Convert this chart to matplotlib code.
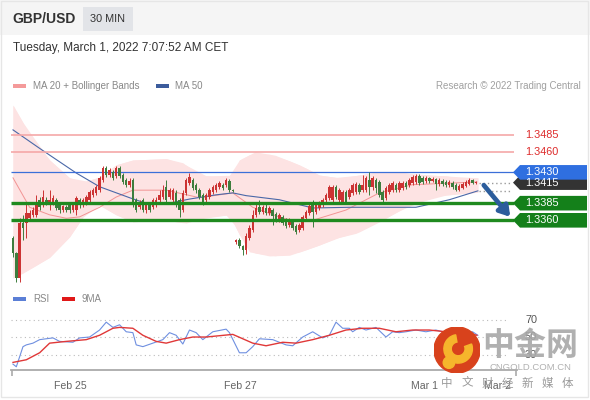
import matplotlib
matplotlib.use("Agg")
import matplotlib.pyplot as plt
import matplotlib.patches as mpatches
import matplotlib.transforms as mtrans
import numpy as np

plt.rcParams['font.family'] = ['Liberation Sans', 'Noto Sans CJK SC', 'DejaVu Sans']

# ---- candles (30 min), index based ----
opens = [1.3334, 1.3312, 1.3276, 1.3356, 1.3356, 1.3363, 1.3368, 1.3368, 1.3390, 1.3382,
         1.3390, 1.3382, 1.3385, 1.3390, 1.3382, 1.3375, 1.3379, 1.3382, 1.3375, 1.3375,
         1.3390, 1.3382, 1.3385, 1.3390, 1.3397, 1.3400, 1.3404, 1.3419, 1.3436, 1.3426,
         1.3431, 1.3425, 1.3436, 1.3426, 1.3419, 1.3412, 1.3419, 1.3390, 1.3379, 1.3390,
         1.3375, 1.3384, 1.3379, 1.3382, 1.3390, 1.3394, 1.3409, 1.3394, 1.3390, 1.3400,
         1.3390, 1.3375, 1.3400, 1.3414, 1.3419, 1.3412, 1.3404, 1.3397, 1.3390, 1.3394,
         1.3401, 1.3404, 1.3409, 1.3412, 1.3412, 1.3417, 1.3404, 1.3328, 1.3331, 1.3322,
         1.3317, 1.3334, 1.3346, 1.3368, 1.3379, 1.3372, 1.3378, 1.3371, 1.3375, 1.3369,
         1.3360, 1.3365, 1.3360, 1.3353, 1.3358, 1.3352, 1.3346, 1.3349, 1.3363, 1.3371,
         1.3382, 1.3372, 1.3378, 1.3382, 1.3390, 1.3393, 1.3390, 1.3409, 1.3390, 1.3387,
         1.3401, 1.3394, 1.3400, 1.3401, 1.3412, 1.3404, 1.3404, 1.3419, 1.3409, 1.3419,
         1.3416, 1.3401, 1.3393, 1.3401, 1.3404, 1.3412, 1.3404, 1.3407, 1.3414, 1.3412,
         1.3414, 1.3416, 1.3425, 1.3422, 1.3418, 1.3422, 1.3418, 1.3420, 1.3413, 1.3418,
         1.3416, 1.3412, 1.3414, 1.3412, 1.3404, 1.3407, 1.3410, 1.3413, 1.3419, 1.3414]
highs = [1.3337, 1.3314, 1.3363, 1.3368, 1.3385, 1.3375, 1.3379, 1.3397, 1.3394, 1.3404,
         1.3394, 1.3404, 1.3397, 1.3393, 1.3385, 1.3382, 1.3382, 1.3385, 1.3387, 1.3396,
         1.3393, 1.3393, 1.3397, 1.3404, 1.3407, 1.3412, 1.3425, 1.3439, 1.3439, 1.3436,
         1.3433, 1.3439, 1.3439, 1.3429, 1.3422, 1.3422, 1.3422, 1.3393, 1.3390, 1.3393,
         1.3385, 1.3387, 1.3393, 1.3394, 1.3404, 1.3412, 1.3419, 1.3407, 1.3407, 1.3404,
         1.3393, 1.3404, 1.3422, 1.3429, 1.3422, 1.3414, 1.3407, 1.3400, 1.3400, 1.3407,
         1.3412, 1.3414, 1.3417, 1.3414, 1.3422, 1.3420, 1.3405, 1.3333, 1.3334, 1.3324,
         1.3341, 1.3353, 1.3375, 1.3385, 1.3390, 1.3382, 1.3385, 1.3381, 1.3378, 1.3372,
         1.3371, 1.3368, 1.3363, 1.3363, 1.3360, 1.3355, 1.3356, 1.3368, 1.3375, 1.3384,
         1.3390, 1.3385, 1.3388, 1.3393, 1.3400, 1.3412, 1.3412, 1.3412, 1.3407, 1.3404,
         1.3404, 1.3407, 1.3414, 1.3416, 1.3414, 1.3426, 1.3425, 1.3431, 1.3425, 1.3422,
         1.3419, 1.3404, 1.3410, 1.3414, 1.3417, 1.3414, 1.3417, 1.3417, 1.3417, 1.3422,
         1.3426, 1.3428, 1.3428, 1.3425, 1.3425, 1.3423, 1.3423, 1.3422, 1.3422, 1.3420,
         1.3419, 1.3419, 1.3417, 1.3414, 1.3413, 1.3416, 1.3419, 1.3422, 1.3420, 1.3417]
lows = [1.3306, 1.3270, 1.3270, 1.3331, 1.3334, 1.3360, 1.3365, 1.3365, 1.3375, 1.3379,
        1.3382, 1.3375, 1.3382, 1.3375, 1.3371, 1.3372, 1.3372, 1.3371, 1.3372, 1.3368,
        1.3378, 1.3379, 1.3382, 1.3387, 1.3394, 1.3397, 1.3401, 1.3416, 1.3423, 1.3423,
        1.3419, 1.3422, 1.3422, 1.3413, 1.3409, 1.3409, 1.3379, 1.3372, 1.3376, 1.3372,
        1.3371, 1.3372, 1.3376, 1.3379, 1.3387, 1.3391, 1.3387, 1.3391, 1.3387, 1.3379,
        1.3365, 1.3372, 1.3397, 1.3412, 1.3404, 1.3400, 1.3391, 1.3382, 1.3385, 1.3391,
        1.3398, 1.3401, 1.3406, 1.3404, 1.3409, 1.3401, 1.3402, 1.3326, 1.3319, 1.3309,
        1.3311, 1.3331, 1.3343, 1.3365, 1.3369, 1.3369, 1.3368, 1.3368, 1.3353, 1.3358,
        1.3358, 1.3353, 1.3349, 1.3350, 1.3346, 1.3340, 1.3343, 1.3346, 1.3360, 1.3368,
        1.3350, 1.3369, 1.3375, 1.3379, 1.3387, 1.3390, 1.3387, 1.3391, 1.3387, 1.3384,
        1.3384, 1.3391, 1.3397, 1.3398, 1.3398, 1.3401, 1.3401, 1.3397, 1.3404, 1.3400,
        1.3394, 1.3385, 1.3390, 1.3398, 1.3401, 1.3401, 1.3401, 1.3404, 1.3406, 1.3409,
        1.3412, 1.3413, 1.3412, 1.3413, 1.3414, 1.3414, 1.3416, 1.3404, 1.3410, 1.3410,
        1.3409, 1.3409, 1.3406, 1.3403, 1.3403, 1.3406, 1.3409, 1.3412, 1.3413, 1.3413]
closes = [1.3312, 1.3276, 1.3356, 1.3349, 1.3371, 1.3371, 1.3375, 1.3385, 1.3379, 1.3394,
          1.3385, 1.3390, 1.3393, 1.3378, 1.3375, 1.3381, 1.3375, 1.3375, 1.3384, 1.3393,
          1.3382, 1.3390, 1.3394, 1.3401, 1.3404, 1.3409, 1.3422, 1.3436, 1.3426, 1.3433,
          1.3422, 1.3436, 1.3425, 1.3416, 1.3412, 1.3418, 1.3382, 1.3375, 1.3385, 1.3375,
          1.3382, 1.3375, 1.3390, 1.3390, 1.3397, 1.3404, 1.3390, 1.3404, 1.3404, 1.3382,
          1.3375, 1.3400, 1.3419, 1.3423, 1.3407, 1.3404, 1.3394, 1.3385, 1.3397, 1.3404,
          1.3409, 1.3412, 1.3414, 1.3407, 1.3419, 1.3404, 1.3403, 1.3331, 1.3322, 1.3317,
          1.3337, 1.3349, 1.3368, 1.3378, 1.3372, 1.3379, 1.3371, 1.3378, 1.3366, 1.3360,
          1.3368, 1.3356, 1.3352, 1.3360, 1.3349, 1.3343, 1.3353, 1.3365, 1.3372, 1.3381,
          1.3372, 1.3382, 1.3385, 1.3390, 1.3397, 1.3409, 1.3409, 1.3394, 1.3404, 1.3401,
          1.3387, 1.3404, 1.3412, 1.3413, 1.3401, 1.3412, 1.3422, 1.3409, 1.3422, 1.3407,
          1.3397, 1.3390, 1.3407, 1.3412, 1.3414, 1.3404, 1.3414, 1.3414, 1.3409, 1.3419,
          1.3423, 1.3425, 1.3414, 1.3416, 1.3422, 1.3418, 1.3420, 1.3413, 1.3419, 1.3413,
          1.3412, 1.3416, 1.3409, 1.3404, 1.3410, 1.3413, 1.3416, 1.3419, 1.3414, 1.3416]

# ---- indicator lines, read at sample candle positions ----
bb_up_idx = [0, 6, 11, 17, 21, 26, 31, 36, 46, 51, 56, 64, 66.5, 68, 72.7, 78.7, 86, 92, 98, 104, 110, 116, 122, 130, 134, 139.6]
bb_up = [1.3528, 1.3477, 1.3448, 1.3422, 1.3416, 1.3423, 1.3441, 1.3448, 1.3450, 1.3444, 1.3426, 1.3422, 1.3431,
         1.3448, 1.3460, 1.3455, 1.3441, 1.3426, 1.3422, 1.3426, 1.3431, 1.3431, 1.3426, 1.3425, 1.3422, 1.3422]
bb_lo_idx = [0, 3, 11, 17, 22, 26, 31, 36, 46, 52, 58, 65, 68, 71, 77, 83, 88, 92, 97, 103, 110, 119, 128, 139.6]
bb_lo = [1.3276, 1.3283, 1.3306, 1.3336, 1.3372, 1.3382, 1.3368, 1.3358, 1.3360, 1.3356, 1.3365, 1.3368,
         1.3339, 1.3314, 1.3308, 1.3309, 1.3317, 1.3324, 1.3334, 1.3341, 1.3358, 1.3382, 1.3396, 1.3401]
ma20_idx = [0, 5, 11, 16, 20, 26, 31, 36, 46, 56, 66, 72, 81, 85, 90, 100, 110, 120, 130, 139.3]
ma20 = [1.3422, 1.3379, 1.3368, 1.3363, 1.3365, 1.3379, 1.3394, 1.3404, 1.3404, 1.3393,
        1.3400, 1.3379, 1.3363, 1.3359, 1.3360, 1.3375, 1.3400, 1.3412, 1.3414, 1.3416]
ma50_idx = [0, 8, 19, 26, 35, 40.5, 47, 53, 60.7, 66, 70, 80, 90, 101, 121, 131, 139.6]
ma50 = [1.3492, 1.3465, 1.3429, 1.3409, 1.3393, 1.3384, 1.3385, 1.3391, 1.3397, 1.3400,
        1.3396, 1.3390, 1.3378, 1.3379, 1.3379, 1.3390, 1.3403]

rsi_idx = [0, 1, 3, 4, 6, 8, 12, 14, 18, 20, 23, 26, 28, 30, 32, 34, 36, 37, 39, 42, 45, 47, 49, 51, 53, 55,
           57, 60, 64, 65, 68, 70, 72, 74, 78, 82, 84, 87, 90, 93, 95, 97, 99, 101, 102, 104, 106, 109,
           112, 114, 116, 118, 121, 124, 127, 130, 133, 136, 138, 139.6]
rsi = [19, 16, 39, 41, 43, 47, 49, 45, 44, 49, 50, 58, 67, 61, 64, 56, 55, 41, 39, 43, 47, 55, 52, 42, 58, 55,
       47, 56, 59, 55, 32, 32, 39, 48, 47, 41, 40, 50, 56, 49, 52, 67, 60, 60, 56, 61, 58, 61,
       50, 56, 55, 56, 58, 56, 58, 55, 52, 53, 56, 52]
rsi_ma_idx = [0, 4, 8, 11, 16, 22, 26, 30, 32, 36, 39, 43, 46, 50, 54, 58, 66, 72, 76, 81, 85, 90, 95, 100,
              105, 110, 115, 120, 125, 130, 136, 139.3]
rsi_ma = [21, 24, 32, 43, 45, 47, 52, 60, 61, 60, 52, 45, 43, 47, 50, 50, 53, 43, 40, 44, 43, 47, 52, 58,
          60, 60, 56, 58, 58, 56, 55, 52]

levels_red = [1.3485, 1.3460]
level_blue = 1.3430
last_price = 1.3415
levels_green = [1.3385, 1.3360]
rsi_levels = [70, 50, 30]

date_ticks = [17.1, 68.2, 123.7, 145.4]
date_labels = ['Feb 25', 'Feb 27', 'Mar 1', 'Mar 2']

W, H = 590, 400


def fx(x):
    return x / W


def fy(y):
    return 1 - y / H


fig = plt.figure(figsize=(5.9, 4.0), dpi=100)
fig.patch.set_facecolor('white')

# header band + card border
fig.patches.append(mpatches.Rectangle((0, fy(35)), 1, 35 / H, transform=fig.transFigure,
                                      facecolor='#f5f5f5', edgecolor='none', zorder=0))
fig.patches.append(mpatches.Rectangle((fx(1), fy(397)), fx(587), 396 / H, transform=fig.transFigure,
                                      facecolor='none', edgecolor='#e6e6e6', lw=1, zorder=0))
fig.patches.append(mpatches.Rectangle((fx(83), fy(31)), fx(50), 24 / H, transform=fig.transFigure,
                                      facecolor='#e2e4e8', edgecolor='none', zorder=1))
fig.text(fx(12), fy(19), 'GBP/USD', fontsize=10, fontweight='bold', color='#333333', va='center')
fig.text(fx(108), fy(19), '30 MIN', fontsize=7.8, color='#333333', va='center', ha='center')
fig.text(fx(13), fy(48), 'Tuesday, March 1, 2022 7:07:52 AM CET', fontsize=8.5, color='#333333', va='center')

# legends
def legend_chip(x, y, color):
    fig.patches.append(mpatches.Rectangle((fx(x), fy(y + 2)), fx(13), 4 / H, transform=fig.transFigure,
                                          facecolor=color, edgecolor='none'))

legend_chip(13, 86, '#f49a9a')
fig.text(fx(33), fy(86), 'MA 20 + Bollinger Bands', fontsize=7, color='#888888', va='center')
legend_chip(156, 86, '#3c5c9c')
fig.text(fx(175), fy(86), 'MA 50', fontsize=7, color='#888888', va='center')
fig.text(fx(581), fy(86), 'Research \u00a9 2022 Trading Central', fontsize=7, color='#a0a0a0',
         va='center', ha='right')
legend_chip(13, 299, '#5b7fd6')
fig.text(fx(33), fy(299), 'RSI', fontsize=7, color='#888888', va='center')
legend_chip(62, 299, '#e01818')
fig.text(fx(82), fy(299), '9MA', fontsize=7, color='#888888', va='center')

# ---- price panel ----
ax = fig.add_axes([fx(11), fy(288), fx(506), 188 / H])
x0, x1 = -0.6, 151.35
ax.set_xlim(x0, x1)
ax.set_ylim(1.32612, 1.35356)
ax.axis('off')

ax.fill_between(bb_up_idx, np.interp(bb_up_idx, bb_lo_idx, bb_lo), bb_up, color='#fde3e3', lw=0, zorder=1)
ax.fill_between(bb_lo_idx, bb_lo, np.interp(bb_lo_idx, bb_up_idx, bb_up), color='#fde3e3', lw=0, zorder=1)
ax.plot(ma20_idx, ma20, color='#f29494', lw=0.7, zorder=2)
ax.plot(ma50_idx, ma50, color='#4a68a8', lw=0.8, zorder=2)

xe = 150.4
ax.hlines(levels_red, x0, xe, colors='#f5a8a8', lw=1.2, zorder=2)
ax.hlines([level_blue], x0, xe, colors='#3b6fd8', lw=0.9, zorder=2)
ax.hlines(levels_green, x0, xe, colors='#1f8a1f', lw=2.4, zorder=4)

idx = np.arange(len(closes))
o = np.array(opens)
c = np.array(closes)
up = c >= o
col = np.where(up, '#cc3333', '#3d7d3d')
ax.vlines(idx, lows, highs, colors=col, lw=0.7, zorder=3)
ax.bar(idx, np.maximum(np.abs(c - o), 0.00006), bottom=np.minimum(o, c), width=0.75,
       color=col, lw=0, zorder=3)

# dotted extensions to the tags
xl = len(closes) - 1
ax.hlines([last_price], xl + 1, 149.8, colors='#9a9a9a', lw=1, linestyles=(0, (1, 2)), zorder=3)
ax.hlines([ma50[-1]], xl + 1, 149.8, colors='#9a9a9a', lw=1, linestyles=(0, (1, 2)), zorder=3)

# price tags
trans = mtrans.blended_transform_factory(fig.transFigure, ax.transData)
hh = 7.3 * (1.35356 - 1.32612) / 188


def tag(price, text, color):
    pts = [(fx(513), price), (fx(520), price + hh), (fx(587), price + hh),
           (fx(587), price - hh), (fx(520), price - hh)]
    poly = mpatches.Polygon(pts, closed=True, transform=trans, facecolor=color,
                            edgecolor='none', clip_on=False, zorder=5)
    ax.add_patch(poly)
    ax.text(fx(525), price, text, transform=trans, fontsize=7.8, color='white',
            va='center', ha='left', clip_on=False, zorder=6)


for lv in levels_red:
    ax.text(fx(525), lv, '%.4f' % lv, transform=trans, fontsize=7.8, color='#dd2a2a',
            va='center', ha='left', clip_on=False)
tag(last_price, '%.4f' % last_price, '#333333')
tag(level_blue, '%.4f' % level_blue, '#2f6fe0')
for lv in levels_green:
    tag(lv, '%.4f' % lv, '#14801a')

# forecast arrow
ax.annotate('', xy=(fx(512), fy(219)), xytext=(fx(482), fy(183)),
            xycoords='figure fraction', textcoords='figure fraction',
            arrowprops=dict(arrowstyle='-|>,head_length=0.6,head_width=0.38',
                            color='#2c5d9c', lw=3.4), zorder=7)

# ---- RSI panel ----
ax2 = fig.add_axes([fx(11), fy(370), fx(506), 65 / H])
ax2.set_xlim(x0, x1)
ax2.set_ylim(12.3, 86.6)
for s in ['top', 'right', 'left']:
    ax2.spines[s].set_visible(False)
ax2.spines['bottom'].set_color('#aaaaaa')
ax2.spines['bottom'].set_linewidth(1.3)
ax2.set_yticks([])
ax2.hlines(rsi_levels, x0, 148.5, colors='#bbbbbb', lw=0.8, linestyles=(0, (1, 3)))
ax2.plot(rsi_idx, rsi, color='#6f8fe0', lw=0.8)
ax2.plot(rsi_ma_idx, rsi_ma, color='#e03838', lw=1.0)
for lv in rsi_levels:
    ax2.text(fx(525), lv, str(lv), transform=mtrans.blended_transform_factory(fig.transFigure, ax2.transData),
             fontsize=7.8, color='#555555', va='center', ha='left', clip_on=False)
ax2.set_xticks(date_ticks)
ax2.set_xticklabels(date_labels, fontsize=7.6, color='#666666')
ax2.tick_params(axis='x', length=0, pad=8)
ax2.set_xticks([x0 + 0.2, x1 - 0.2], minor=True)
ax2.tick_params(axis='x', which='minor', length=4, color='#aaaaaa', width=1.2)

# ---- watermark (drawn over the chart, as in the source image) ----
wm = fig.add_axes([fx(434), fy(373), fx(46), 46 / H])
wm.set_xlim(-1, 1)
wm.set_ylim(-1, 1)
wm.axis('off')
wm.add_patch(mpatches.Circle((0, 0), 1, color='#d8421c'))
wm.add_patch(mpatches.Wedge((0.05, 0.05), 0.62, 100, 380, width=0.32, color='#f6b52c'))
wm.add_patch(mpatches.Circle((-0.35, -0.55), 0.25, color='#f6b52c'))
fig.text(fx(530), fy(346), '中金网', fontsize=23, fontweight='bold', color='#a8a8a8', alpha=0.9,
         ha='center', va='center', family=['Noto Sans CJK SC', 'DejaVu Sans'])
fig.text(fx(530), fy(367), 'CNGOLD.COM.CN', fontsize=6.8, color='#b0b0b0', ha='center', va='center')
for k, ch in enumerate('中文财经新媒体'):
    fig.text(fx(447 + 20 * k), fy(383), ch, fontsize=8.3, color='#9a9a9a', ha='center', va='center',
             family=['Noto Sans CJK SC', 'DejaVu Sans'])

fig.savefig('out.png', dpi=100, facecolor='white')
